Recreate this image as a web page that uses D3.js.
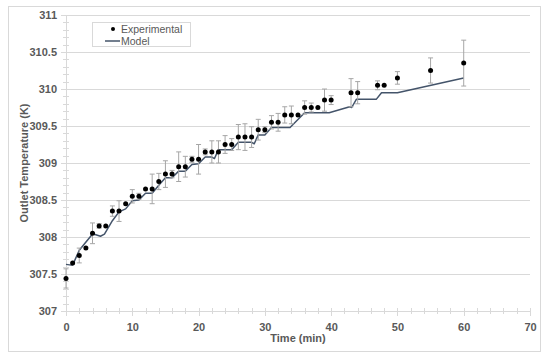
<!DOCTYPE html>
<html>
<head>
<meta charset="utf-8">
<script src="https://cdn.jsdelivr.net/npm/d3@7"></script>
<style>
body { margin: 0; background: #fff; }
svg { font-family: "Liberation Sans", Arial, sans-serif; }
.grid line { stroke: #d9d9d9; stroke-width: 1; shape-rendering: crispEdges; }
.axis path, .axis line { stroke: #d9d9d9; shape-rendering: crispEdges; }
.axis text { fill: #595959; font-size: 11px; font-weight: bold; }
</style>
</head>
<body>
<svg width="550" height="359"></svg>
<script>
// experimental readings (time in min, temperature in K, error +/-)
var expTime = [0,1,2,3,4,5,6,7,8,9,10,11,12,13,14,15,16,17,18,19,20,21,22,23,24,25,26,27,28,29,30,
               31,32,33,34,35,36,37,38,39,40,43,44,47,48,50,55,60];
var expTemp = [307.44,307.65,307.75,307.85,308.05,308.15,308.15,308.35,308.35,308.45,308.55,308.55,
               308.65,308.65,308.75,308.85,308.85,308.95,308.95,309.05,309.05,309.15,309.15,309.15,
               309.25,309.25,309.35,309.35,309.35,309.45,309.45,309.55,309.55,309.65,309.65,309.65,
               309.75,309.75,309.75,309.85,309.85,309.95,309.95,310.05,310.05,310.15,310.25,310.35];
var expErr  = [0.13,0,0.10,0,0.14,0.03,0,0.07,0.14,0,0.09,0.04,0,0.2,0.11,0.18,0.05,0.2,0.14,0.04,0.2,
               0.04,0.15,0.15,0.12,0.08,0.17,0.18,0.14,0.14,0.04,0.09,0.12,0.11,0.12,0,0.09,0.06,0,
               0.15,0.06,0.19,0.15,0.06,0,0.085,0.17,0.31];

// model curve
var modelTime = [0,0.8,1,2,4,4.5,5.2,5.8,7,8,9,10,11,12,13,14,15,16,17,18,19,20,21,22,22.4,23,24,25,
                 26,27,28,28.4,29,30,31,33.8,36,39.7,42.8,43.1,43.8,46.8,47.6,50,60];
var modelTemp = [307.63,307.62,307.62,307.82,308.04,308.03,308.01,308.04,308.22,308.34,308.38,308.49,
                 308.5,308.59,308.59,308.7,308.8,308.8,308.89,308.89,308.98,308.99,309.08,309.08,309.06,
                 309.18,309.18,309.18,309.28,309.28,309.28,309.26,309.38,309.38,309.48,309.48,309.68,
                 309.68,309.76,309.75,309.86,309.86,309.95,309.95,310.15];

var yTicks = [307,307.5,308,308.5,309,309.5,310,310.5,311];
var xTicks = [0,10,20,30,40,50,60,70];

var svg = d3.select("svg");

// outer chart border
svg.append("rect").attr("x", 8.5).attr("y", 6.5).attr("width", 532).attr("height", 345)
    .attr("fill", "#fff").attr("stroke", "#d9d9d9");

var x = d3.scaleLinear().domain([0, 70]).range([66, 530]);
var y = d3.scaleLinear().domain([307, 311]).range([311, 15]);

// horizontal gridlines
svg.append("g").attr("class", "grid")
  .selectAll("line").data(yTicks.slice(1)).enter().append("line")
    .attr("x1", x(0)).attr("x2", x(70))
    .attr("y1", function(d) { return Math.round(y(d)) + 0.5; })
    .attr("y2", function(d) { return Math.round(y(d)) + 0.5; });

// minor ticks
var yMinor = d3.range(307, 311.001, 0.1);
svg.append("g").selectAll("line").data(yMinor).enter().append("line")
    .attr("x1", x(0) - 3).attr("x2", x(0) + 3)
    .attr("y1", function(d) { return Math.round(y(d)) + 0.5; })
    .attr("y2", function(d) { return Math.round(y(d)) + 0.5; })
    .attr("stroke", "#d9d9d9");
var xMinor = d3.range(0, 70.001, 2);
svg.append("g").selectAll("line").data(xMinor).enter().append("line")
    .attr("x1", function(d) { return Math.round(x(d)) + 0.5; })
    .attr("x2", function(d) { return Math.round(x(d)) + 0.5; })
    .attr("y1", y(307) - 3).attr("y2", y(307) + 3)
    .attr("stroke", "#d9d9d9");

// axes
svg.append("g").attr("class", "axis")
    .attr("transform", "translate(0," + y(307) + ")")
    .call(d3.axisBottom(x).tickValues(xTicks).tickSize(5).tickPadding(5))
  .selectAll("text").attr("dy", "0.9em");

svg.append("g").attr("class", "axis")
    .attr("transform", "translate(" + x(0) + ",0)")
    .call(d3.axisLeft(y).tickValues(yTicks).tickFormat(d3.format("")).tickSize(5).tickPadding(4));

svg.selectAll(".axis .domain").attr("stroke", "#d9d9d9");

// axis titles
svg.append("text")
    .attr("x", 298).attr("y", 342)
    .attr("text-anchor", "middle")
    .attr("font-size", "11px").attr("font-weight", "bold").attr("fill", "#595959")
    .text("Time (min)");

svg.append("text")
    .attr("transform", "translate(28," + y(309) + ") rotate(-90)")
    .attr("text-anchor", "middle")
    .attr("font-size", "11px").attr("font-weight", "bold").attr("fill", "#595959")
    .text("Outlet Temperature (K)");

// model line
var line = d3.line()
    .x(function(d, i) { return x(modelTime[i]); })
    .y(function(d) { return y(d); });

svg.append("path")
    .datum(modelTemp)
    .attr("d", line)
    .attr("fill", "none")
    .attr("stroke", "#44546a")
    .attr("stroke-width", 1.5)
    .attr("stroke-linejoin", "round");

// error bars
var eb = svg.append("g").attr("stroke", "#a6a6a6").attr("stroke-width", 1);
expTime.forEach(function(t, i) {
  if (!expErr[i]) return;
  var cx = x(t), y1 = y(expTemp[i] + expErr[i]), y2 = y(expTemp[i] - expErr[i]);
  eb.append("line").attr("x1", cx).attr("x2", cx).attr("y1", y1).attr("y2", y2);
  eb.append("line").attr("x1", cx - 2.5).attr("x2", cx + 2.5).attr("y1", y1).attr("y2", y1);
  eb.append("line").attr("x1", cx - 2.5).attr("x2", cx + 2.5).attr("y1", y2).attr("y2", y2);
});

// experimental points
svg.append("g").selectAll("circle").data(expTemp).enter().append("circle")
    .attr("cx", function(d, i) { return x(expTime[i]); })
    .attr("cy", function(d) { return y(d); })
    .attr("r", 2.5)
    .attr("fill", "#000");

// legend
var lg = svg.append("g");
lg.append("rect").attr("x", 92.5).attr("y", 22.5).attr("width", 98).attr("height", 24)
    .attr("fill", "#fff").attr("stroke", "#d9d9d9");
lg.append("circle").attr("cx", 113).attr("cy", 29).attr("r", 2).attr("fill", "#000");
lg.append("line").attr("x1", 105).attr("x2", 120).attr("y1", 41).attr("y2", 41)
    .attr("stroke", "#44546a").attr("stroke-width", 1.5);
lg.append("text").attr("x", 121).attr("y", 32.5).attr("font-size", "10.5px").attr("fill", "#595959")
    .text("Experimental");
lg.append("text").attr("x", 121).attr("y", 44.5).attr("font-size", "10.5px").attr("fill", "#595959")
    .text("Model");
</script>
</body>
</html>
